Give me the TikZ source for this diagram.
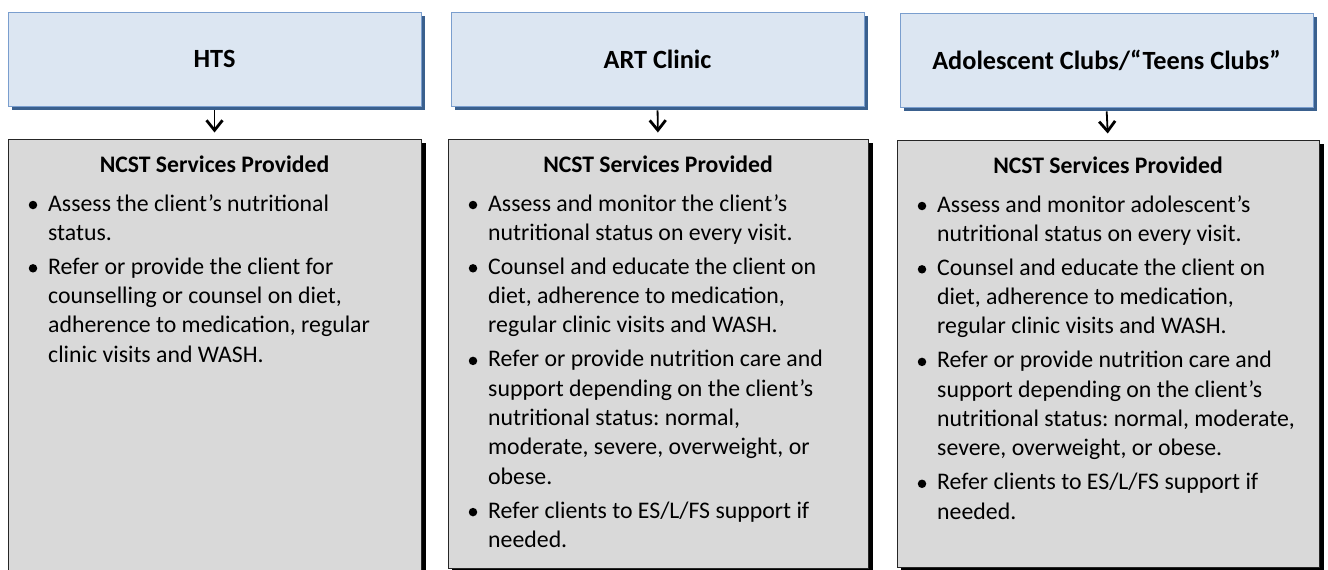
\documentclass[tikz,border=0pt]{standalone}
\usepackage{fontspec}
\setmainfont{Carlito}
\usetikzlibrary{arrows.meta}
\definecolor{hdrfill}{RGB}{220,230,242}
\definecolor{hdrline}{RGB}{122,158,206}
\definecolor{hdrshadow}{RGB}{58,96,142}
\definecolor{boxfill}{RGB}{217,217,217}
\newcommand\lnx[1]{\hbox{#1}}
\frenchspacing
\tikzset{
  hdr/.style={draw=hdrline, line width=0.8pt, fill=hdrfill, minimum width=413pt, minimum height=94pt,
    inner sep=0pt, font=\fontsize{26.3}{30}\selectfont\bfseries, text=black},
  hdrsh/.style={fill=hdrshadow},
  gbox/.style={draw=black!85, line width=1pt, fill=boxfill},
  gsh/.style={fill=black},
  ttl/.style={anchor=base, inner sep=0pt, font=\fontsize{23.7}{28}\selectfont\bfseries},
  itm/.style={anchor=base west, inner sep=0pt, font=\fontsize{23.8}{29.3}\selectfont\frenchspacing},
  bdot/.style={circle, fill=black, inner sep=0pt, minimum size=8.5pt},
  conn/.style={line width=1.8pt, -{Straight Barb[length=10pt,width=16pt,line width=2.8pt]}, shorten <=4pt, shorten >=6pt}
}
\begin{document}
\begin{tikzpicture}[x=1pt,y=-1pt]
\useasboundingbox (0,0) rectangle (1328,570);
% header shadows
\fill[hdrsh] (12,16) rectangle (425,110);
\fill[hdrsh] (455,16) rectangle (868,110);
\fill[hdrsh] (904,17) rectangle (1317,111);
% headers
\node[hdr] (hts) at (214.5,59) {HTS};
\node[hdr] (art) at (657.5,59) {ART Clinic};
\node[hdr] (ado) at (1106.5,60) {Adolescent Clubs/“Teens Clubs”};
% grey box shadows
\fill[gsh] (12,143) rectangle (426,600);
\fill[gsh] (452,143) rectangle (873,572);
\fill[gsh] (901,144) rectangle (1324,571);
% grey boxes
\node[gbox, minimum width=413pt, minimum height=461pt, inner sep=0pt] (htsb) at (214.5,369.5) {};
\node[gbox, minimum width=420pt, minimum height=429pt, inner sep=0pt] (artb) at (658,353.5) {};
\node[gbox, minimum width=422pt, minimum height=427pt, inner sep=0pt] (adob) at (1108,353.5) {};
% connectors
\draw[conn] (hts.south) -- (htsb.north);
\draw[conn] (art.south) -- (artb.north);
\draw[conn] (ado.south) -- (adob.north);
% titles
\node[ttl] (htst) at (214.5,172) {NCST Services Provided};
\node[ttl] (artt) at (658,172) {NCST Services Provided};
\node[ttl] (adot) at (1108,173) {NCST Services Provided};
% HTS items
\node[bdot] (h1d) at (33,205) {};
\node[itm] (h1) at (48,211) {\vtop{\lnx{Assess the client’s nutritional}\lnx{status.}}};
\node[bdot] (h2d) at (33,268.3) {};
\node[itm] (h2) at (48,274.3) {\vtop{\lnx{Refer or provide the client for}\lnx{counselling or counsel on diet,}\lnx{adherence to medication, regular}\lnx{clinic visits and WASH.}}};
% ART items
\node[bdot] (a1d) at (473,205) {};
\node[itm] (a1) at (488,211) {\vtop{\lnx{Assess and monitor the client’s}\lnx{nutritional status on every visit.}}};
\node[bdot] (a2d) at (473,268.3) {};
\node[itm] (a2) at (488,274.3) {\vtop{\lnx{Counsel and educate the client on}\lnx{diet, adherence to medication,}\lnx{regular clinic visits and WASH.}}};
\node[bdot] (a3d) at (473,360.9) {};
\node[itm] (a3) at (488,366.9) {\vtop{\lnx{Refer or provide nutrition care and}\lnx{support depending on the client’s}\lnx{nutritional status: normal,}\lnx{moderate, severe, overweight, or}\lnx{obese.}}};
\node[bdot] (a4d) at (473,512.1) {};
\node[itm] (a4) at (488,518.1) {\vtop{\lnx{Refer clients to ES/L/FS support if}\lnx{needed.}}};
% Adolescent items
\node[bdot] (d1d) at (922,206) {};
\node[itm] (d1) at (937,212) {\vtop{\lnx{Assess and monitor adolescent’s}\lnx{nutritional status on every visit.}}};
\node[bdot] (d2d) at (922,269.3) {};
\node[itm] (d2) at (937,275.3) {\vtop{\lnx{Counsel and educate the client on}\lnx{diet, adherence to medication,}\lnx{regular clinic visits and WASH.}}};
\node[bdot] (d3d) at (922,361.9) {};
\node[itm] (d3) at (937,367.9) {\vtop{\lnx{Refer or provide nutrition care and}\lnx{support depending on the client’s}\lnx{nutritional status: normal, moderate,}\lnx{severe, overweight, or obese.}}};
\node[bdot] (d4d) at (922,483.8) {};
\node[itm] (d4) at (937,489.8) {\vtop{\lnx{Refer clients to ES/L/FS support if}\lnx{needed.}}};
\end{tikzpicture}
\end{document}
